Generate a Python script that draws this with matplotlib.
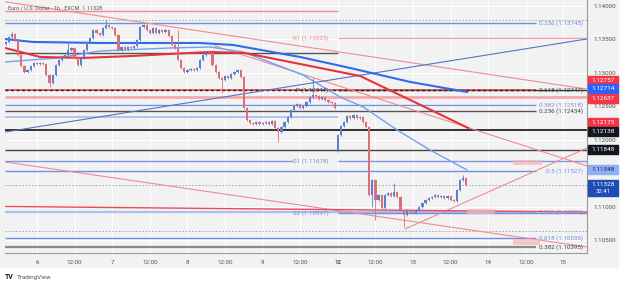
import matplotlib
matplotlib.use('Agg')
import matplotlib.pyplot as plt
from matplotlib.patches import Rectangle

W, H = 625, 286
plt.rcParams['font.family'] = ['Roboto', 'DejaVu Sans']

# ---- data (x = trading hours since May 6 00:00, weekend removed) ----
first_hour = -10
closes = [1.13462, 1.13537, 1.13581, 1.13492, 1.13267, 1.13103, 1.13013, 1.13043, 1.13103, 1.13148,
          1.13133, 1.13148, 1.13133, 1.12968, 1.12848, 1.12968, 1.13118, 1.13192, 1.13252, 1.13267,
          1.13342, 1.13372, 1.13222, 1.13118, 1.13222, 1.13342, 1.13462, 1.13522, 1.13641, 1.13596,
          1.13566, 1.13671, 1.13716, 1.13686, 1.13671, 1.13566, 1.13342, 1.13387, 1.13357, 1.13387,
          1.13372, 1.13402, 1.13492, 1.13686, 1.13716, 1.13641, 1.13596, 1.13671, 1.13596, 1.13641,
          1.13611, 1.13641, 1.13551, 1.13417, 1.13372, 1.13192, 1.13073, 1.13013, 1.13043, 1.13058,
          1.13043, 1.13073, 1.13192, 1.13267, 1.13312, 1.13297, 1.13118, 1.13013, 1.12923, 1.12893,
          1.12953, 1.12923, 1.12983, 1.13013, 1.13043, 1.12938, 1.12474, 1.12295, 1.12250, 1.12235,
          1.12265, 1.12235, 1.12250, 1.12265, 1.12235, 1.12280, 1.12175, 1.12115, 1.12190, 1.12265,
          1.12340, 1.12444, 1.12504, 1.12534, 1.12474, 1.12504, 1.12564, 1.12639, 1.12669, 1.12654,
          1.12609, 1.12639, 1.12594, 1.12564, 1.12549, 1.12474, 1.12070, 1.12205, 1.12265, 1.12355,
          1.12325, 1.12370, 1.12325, 1.12340, 1.12265, 1.12190, 1.11173, 1.11397, 1.11098, 1.11173,
          1.10978, 1.11173, 1.11203, 1.11158, 1.11218, 1.11143, 1.10948, 1.10874, 1.10948, 1.10918,
          1.10903, 1.10948, 1.10993, 1.11053, 1.11098, 1.11128, 1.11143, 1.11173, 1.11143, 1.11158,
          1.11128, 1.11158, 1.11098, 1.11083, 1.11248, 1.11397, 1.11427, 1.11328]
first_open = 1.13432
gap_opens = {96: 1.11846}
wick_highs = {-8: 1.13611, 10: 1.13447, 22: 1.13791, 45: 1.13641, 88: 1.12923,
              114: 1.11352, 136: 1.11472}
wick_lows = {4: 1.12789, 59: 1.12699, 77: 1.11966, 96: 1.11816, 107: 1.10993,
             108: 1.10799, 117: 1.10694, 110: 1.10948}
WICK = 0.00015

ma_long_t = [-10.2, -1.3, 20.1, 52, 62.6, 83.9, 99.9, 119.1, 137.2]
ma_long_p = [1.13507, 1.13462, 1.13447, 1.13447, 1.13417, 1.13238, 1.13073, 1.12864, 1.12714]
ma_fast_t = [-10.2, 6.4, 20.1, 42.5, 55.2, 65.8, 84.9, 96.7, 104.1, 114.9, 125.4, 137.2]
ma_fast_p = [1.13163, 1.13223, 1.13327, 1.13372, 1.13387, 1.13312, 1.12968, 1.12639, 1.12490,
             1.12146, 1.11846, 1.11548]
ma_red_t = [-10.2, 1, 14.7, 30.6, 42.5, 55.2, 66.4, 83.9, 103.1, 119.1, 137.6]
ma_red_p = [1.13372, 1.13238, 1.13223, 1.13253, 1.13283, 1.13312, 1.13297, 1.13133, 1.12953,
            1.12594, 1.12175]

fib_names = ['0.236', '0.618', '0.382', '0.236', '0.5', '0.236', '0.618', '0.382']
fib_levels = [1.13745, 1.12747, 1.12518, 1.12434, 1.11527, 1.10921, 1.10535, 1.10395]
pivot_names = ['R1', 'P', 'S1', 'S2']
pivot_levels = [1.13525, 1.12744, 1.11678, 1.10897]
prev_levels = [1.13926, 1.13290, 1.12340, 1.11678]
key_levels = [1.12138, 1.11848, 1.12637]
dotted_levels = [1.13791, 1.11328, 1.10639]
last_price = 1.11328

# trend lines: (t0, p0, t1, p1)
trend_lines = {
    'chan_top': (-10.2, 1.14063, 175.5, 1.12757),
    'chan_bot': (-10.2, 1.11667, 175.5, 1.10395),
    'steep': (56.8, 1.13402, 175.5, 1.11607),
    'rise_blue': (-10.2, 1.12115, 175.5, 1.13507),
    'rise_pink': (117.5, 1.10665, 175.5, 1.11876),
    'flat_red': (-10.2, 1.11001, 175.5, 1.10918),
}
zones = [(151.9, 161.2, 1.11627, 1.11702), (137.2, 146.2, 1.10889, 1.10964),
         (151.9, 160.5, 1.10425, 1.10515)]

tick_hours = list(range(0, 169, 12))
tick_labels = ['6', '12:00', '7', '12:00', '8', '12:00', '9', '12:00', '12', '12:00',
               '13', '12:00', '14', '12:00', '15']
price_ticks = [1.105, 1.11, 1.12, 1.125, 1.13, 1.135, 1.14]

# price tags on axis: (text, price, shift px, bg, fg)
tags = [('1.12757', 1.12757, -9, '#f23645', 'white'),
        ('1.12714', 1.12714, -3, '#2962ff', 'white'),
        ('1.12637', 1.12637, 1, '#f23645', 'white'),
        ('1.12175', 1.12175, -6, '#f23645', 'white'),
        ('1.12138', 1.12138, 1, '#131722', 'white'),
        ('1.11848', 1.11848, 0, '#131722', 'white'),
        ('1.11548', 1.11548, 0, '#8fb0f5', '#10245a')]

# ---- figure ----
fig = plt.figure(figsize=(W / 100, H / 100), dpi=100)
fig.patch.set_facecolor('white')
fig.patches.append(Rectangle((0, 1 - 267 / H), 618 / W, 267 / H, transform=fig.transFigure,
                             color='#f2f2f2', zorder=-2))
ax = fig.add_axes([5 / W, 1 - 253 / H, 582 / W, 253 / H])
ax.set_facecolor('#f2f2f2')
T0, T1 = -10.2, 175.5
ax.set_xlim(T0, T1)
ax.set_ylim(1.10305, 1.14090)

ax.set_xticks(tick_hours)
ax.set_xticklabels(tick_labels)
for lbl in ax.get_xticklabels():
    if lbl.get_text() == '12':
        lbl.set_fontweight('bold')
ax.set_yticks(price_ticks)
ax.set_yticklabels([f'{p:.5f}' for p in price_ticks])
ax.yaxis.tick_right()
ax.tick_params(axis='both', length=0, labelsize=4.5, colors='#555555')
ax.tick_params(axis='x', pad=5)
ax.tick_params(axis='y', pad=5)
ax.grid(True, color='white', lw=0.8, zorder=0)
ax.set_axisbelow(True)
for s in ['top', 'left']:
    ax.spines[s].set_visible(False)
for s in ['right', 'bottom']:
    ax.spines[s].set_color('#9a9a9a')
    ax.spines[s].set_linewidth(0.8)

FIB_END = 159.3
LBL_X = 174.3
MON = 96.1

# horizontal levels
ax.hlines(dotted_levels, T0, T1, colors='#9aa0aa', lw=0.6, linestyles=(0, (2, 2)), zorder=1)
ax.hlines(key_levels[2], T0, T1, colors='#f5a8ae', lw=2.0, zorder=1)
ax.hlines(key_levels[:2], T0, T1, colors=['#222222', '#444444'], lw=[1.3, 1.0], zorder=2)
ax.hlines(prev_levels[0], T0, MON, colors='#f08b95', lw=1.0, zorder=1)
ax.hlines(prev_levels[1], T0, MON, colors='#555555', lw=1.0, zorder=1)
ax.hlines(prev_levels[2], T0, MON, colors='#a9c0f2', lw=1.3, zorder=1)
ax.hlines(prev_levels[3], T0, 81.7, colors='#7d98e0', lw=1.0, zorder=1)

fib_cols = ['#6f8fe0', '#333333', '#6f8fe0', '#555555', '#6f8fe0', '#a9c0f2', '#6f8fe0', '#8a8a8a']
fib_txt = ['#6f8fe0', '#444444', '#6f8fe0', '#444444', '#6f8fe0', '#6f8fe0', '#6f8fe0', '#444444']
fib_lw = [1.0, 1.0, 1.0, 1.0, 1.0, 1.6, 1.0, 1.6]
for name, lev, c, tc, lw in zip(fib_names, fib_levels, fib_cols, fib_txt, fib_lw):
    if name == '0.618' and lev > 1.12:
        ax.hlines(lev, T0, FIB_END, colors='#e04848', lw=1.2, zorder=2)
        ax.hlines(lev, T0, FIB_END, colors='#222222', lw=1.0, linestyles=(0, (2, 2)), zorder=2)
    else:
        ax.hlines(lev, T0, FIB_END, colors=c, lw=lw, zorder=1)
    ax.text(LBL_X, lev, f'{name} ({lev:.5f})', color=tc, fontsize=4.5, ha='right',
            va='center', zorder=4)

piv_cols = ['#f5a0a8', '#333333', '#7d98e0', '#6f8fe0']
for name, lev, c in zip(pivot_names, pivot_levels, piv_cols):
    ax.hlines(lev, MON, T1, colors=c, lw=1.0, zorder=1)
    ax.text(93.0, lev, f'{name} ({lev:.5f})', color='#f08b95' if name == 'R1' else
            ('#444444' if name == 'P' else '#6f8fe0'), fontsize=4.5, ha='right', va='center', zorder=4)

# trend lines
tl_style = {'chan_top': ('#f08b95', 0.8), 'chan_bot': ('#f08b95', 0.8), 'steep': ('#f08b95', 0.8),
            'rise_blue': ('#5673c4', 0.8), 'rise_pink': ('#f08b95', 0.8), 'flat_red': ('#ec4a55', 1.0)}
for k, (t0, p0, t1, p1) in trend_lines.items():
    c, lw = tl_style[k]
    ax.plot([t0, t1], [p0, p1], color=c, lw=lw, zorder=2)

for t0, t1, p0, p1 in zones:
    ax.add_patch(Rectangle((t0, p0), t1 - t0, p1 - p0, color='#f4b4b9', alpha=0.7, lw=0, zorder=2))

# moving averages
ax.plot(ma_fast_t, ma_fast_p, color='#6ea0f5', lw=1.0, zorder=3)
ax.plot(ma_long_t, ma_long_p, color='#2f6bea', lw=1.5, zorder=3)
ax.plot(ma_red_t, ma_red_p, color='#e8323a', lw=1.5, zorder=3)

# candles
hrs = list(range(first_hour, first_hour + len(closes)))
opens = [first_open] + closes[:-1]
opens = [gap_opens.get(h, o) for h, o in zip(hrs, opens)]
for h, o, c in zip(hrs, opens, closes):
    col = '#5c7fd0' if c >= o else '#da6f79'
    hi = wick_highs.get(h, max(o, c) + WICK)
    lo = wick_lows.get(h, min(o, c) - WICK)
    ax.vlines(h, lo, hi, color=col, lw=0.6, zorder=4)
    ax.bar(h, max(abs(c - o), 0.00004), bottom=min(o, c), width=0.7, color=col, lw=0, zorder=4)

# price tags on the right axis
for text, price, dy, bg, fg in tags:
    _, yd = ax.transData.transform((0, price))
    yc = yd - dy
    fig.patches.append(Rectangle((588 / W, (yc - 4.5) / H), 30 / W, 9 / H, transform=fig.transFigure,
                                 color=bg, zorder=5))
    fig.text(603 / W, yc / H, text, color=fg, fontsize=4.6, ha='center', va='center', zorder=6)
_, yd = ax.transData.transform((0, last_price))
fig.patches.append(Rectangle((588 / W, (yd - 11) / H), 30 / W, 16 / H, transform=fig.transFigure,
                             color='#1f4bb5', zorder=5))
fig.text(603 / W, yd / H, f'{last_price:.5f}', color='white', fontsize=4.6, ha='center', va='center', zorder=6)
fig.text(603 / W, (yd - 6.5) / H, '32:41', color='white', fontsize=4.3, ha='center', va='center', zorder=6)

fig.text(8 / W, 1 - 8 / H, 'Euro / U.S. Dollar · 1h · EXCM  1.11328', color='#555555',
         fontsize=4.0, ha='left', va='center', zorder=6)
fig.text(5 / W, 1 - 277 / H, 'TV', color='#131722', fontsize=5, fontweight='bold',
         ha='left', va='center')
fig.text(17 / W, 1 - 277 / H, 'TradingView', color='#555555', fontsize=4.5, ha='left', va='center')

fig.savefig('out.png', dpi=100)
